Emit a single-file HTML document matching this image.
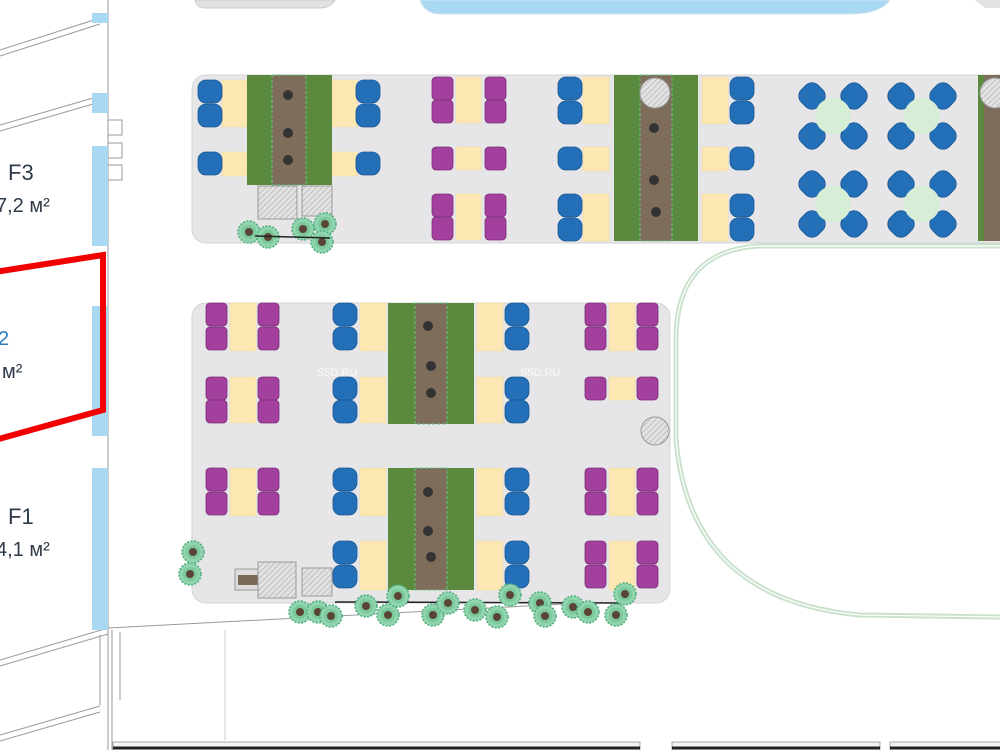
<!DOCTYPE html>
<html><head><meta charset="utf-8"><style>
html,body{margin:0;padding:0;background:#fff;width:1000px;height:750px;overflow:hidden}
svg{display:block}
text{font-family:"Liberation Sans","DejaVu Sans",sans-serif}
</style></head><body>
<svg width="1000" height="750" viewBox="0 0 1000 750" xmlns="http://www.w3.org/2000/svg">
<defs>
<pattern id="hatch" width="4" height="4" patternUnits="userSpaceOnUse" patternTransform="rotate(45)">
<rect width="4" height="4" fill="#e2e2e2"/><line x1="0" y1="0" x2="0" y2="4" stroke="#aaa" stroke-width="1.2"/></pattern>
<g id="bc"><rect x="0" y="0" width="24" height="23" rx="8" fill="#2370b9" stroke="#1a5590" stroke-width="0.8"/></g>
<g id="pc"><rect x="0" y="0" width="21" height="23" rx="4" fill="#a3409e" stroke="#7a2f78" stroke-width="0.8"/></g>
<g id="tree"><circle r="11" fill="#8fd4ad" stroke="#4fae7d" stroke-width="1.5" stroke-dasharray="2 1.5"/><circle r="7" fill="#6cc08f" opacity="0.6"/><circle r="4" fill="#5a4535"/></g>
<g id="xch"><rect x="-12" y="-12" width="24" height="24" rx="9" fill="#2370b9" stroke="#1a5590" stroke-width="0.8" transform="rotate(45)"/></g>
<g id="clu">
<use href="#xch" x="-21" y="-20"/><use href="#xch" x="21" y="-20"/><use href="#xch" x="-21" y="20"/><use href="#xch" x="21" y="20"/>
<circle cx="0" cy="0" r="18" fill="#d6edd6"/>
</g>
</defs>

<!-- top strip -->
<path d="M195,0 L335,0 Q330,8 320,8 L205,8 Q197,8 195,0Z" fill="#e2e2e4" stroke="#ccc"/>
<path d="M420,0 L890,0 Q880,14 850,14 L440,14 Q425,14 420,0Z" fill="#a8d8f2" stroke="#cfe3ee"/>
<path d="M975,0 L1000,0 L1000,8 L985,8Z" fill="#e2e2e4"/>

<!-- left walls -->
<g stroke="#9a9a9a" stroke-width="1" fill="none">
<line x1="0" y1="50" x2="100" y2="18"/><line x1="0" y1="56" x2="100" y2="24"/>
<line x1="0" y1="125" x2="100" y2="96"/><line x1="0" y1="131" x2="100" y2="102"/>
<line x1="0" y1="660" x2="108" y2="628"/><line x1="0" y1="666" x2="108" y2="634"/>
<line x1="0" y1="735" x2="100" y2="706"/><line x1="0" y1="741" x2="100" y2="712"/>
<line x1="108" y1="0" x2="108" y2="750"/><line x1="112" y1="630" x2="112" y2="750"/>
<line x1="100" y1="635" x2="100" y2="705"/><line x1="120" y1="632" x2="120" y2="700"/>
<line x1="108" y1="628" x2="640" y2="600"/>
<line x1="225" y1="630" x2="225" y2="740" stroke="#ccc"/>
<rect x="108" y="120" width="14" height="15"/><rect x="108" y="143" width="14" height="15"/><rect x="108" y="165" width="14" height="15"/>
</g>
<g fill="#a9d8f3">
<rect x="92" y="13" width="16" height="10"/><rect x="92" y="93" width="16" height="20"/>
<rect x="92" y="146" width="16" height="100"/><rect x="92" y="306" width="16" height="130"/>
<rect x="92" y="468" width="16" height="162"/>
</g>
<text x="8" y="180" font-size="22" fill="#2f3b4a">F3</text>
<text x="-4" y="212" font-size="20" fill="#2f3b4a">7,2 м²</text>
<text x="-2" y="345" font-size="20" fill="#2a7dc0">2</text>
<text x="2" y="378" font-size="20" fill="#2f3b4a">м²</text>
<text x="8" y="524" font-size="22" fill="#2f3b4a">F1</text>
<text x="-4" y="556" font-size="20" fill="#2f3b4a">4,1 м²</text>
<polygon points="-5,272 103,255 103,410 -5,440" fill="none" stroke="#f20000" stroke-width="6"/>

<!-- right curve -->
<path d="M1000,246 L760,246 Q676,250 676,340 L676,440 Q690,600 860,615 L1000,617" fill="none" stroke="#c8e2cc" stroke-width="5"/>
<path d="M1000,246 L760,246 Q676,250 676,340 L676,440 Q690,600 860,615 L1000,617" fill="none" stroke="#fff" stroke-width="1.2"/>

<!-- top block -->
<rect x="192" y="75" width="830" height="168" rx="14" fill="#e6e6e8" stroke="#d4d4d6"/>
<g fill="#fde7b3" stroke="#f0d9a0" stroke-width="0.5">
<rect x="222" y="80" width="25" height="47"/><rect x="222" y="152" width="25" height="24"/>
<rect x="332" y="80" width="25" height="47"/><rect x="332" y="152" width="25" height="24"/>
</g>
<use href="#bc" x="198" y="80"/><use href="#bc" x="198" y="104"/><use href="#bc" x="198" y="152"/>
<use href="#bc" x="356" y="80"/><use href="#bc" x="356" y="104"/><use href="#bc" x="356" y="152"/>
<rect x="247" y="75" width="85" height="110" fill="#5b8a3e"/>
<rect x="272" y="75" width="34" height="110" fill="#7d6d5a" stroke="#5fc47f" stroke-dasharray="3 2"/>
<circle cx="288" cy="95" r="5" fill="#333"/><circle cx="288" cy="133" r="5" fill="#333"/><circle cx="288" cy="160" r="5" fill="#333"/>
<rect x="258" y="186" width="39" height="33" fill="url(#hatch)" stroke="#999"/>
<rect x="302" y="186" width="30" height="30" fill="url(#hatch)" stroke="#999"/>
<use href="#tree" x="249" y="232"/><use href="#tree" x="268" y="237"/><use href="#tree" x="303" y="229"/><use href="#tree" x="325" y="224"/><use href="#tree" x="322" y="242"/>
<line x1="255" y1="236" x2="330" y2="238" stroke="#222" stroke-width="1.5"/>

<g fill="#fde7b3" stroke="#f0d9a0" stroke-width="0.5">
<rect x="456" y="77" width="25" height="46"/><rect x="456" y="147" width="25" height="23"/><rect x="456" y="194" width="25" height="46"/>
</g>
<use href="#pc" x="432" y="77"/><use href="#pc" x="432" y="100"/><use href="#pc" x="432" y="147"/><use href="#pc" x="432" y="194"/><use href="#pc" x="432" y="217"/>
<use href="#pc" x="485" y="77"/><use href="#pc" x="485" y="100"/><use href="#pc" x="485" y="147"/><use href="#pc" x="485" y="194"/><use href="#pc" x="485" y="217"/>

<g fill="#fde7b3" stroke="#f0d9a0" stroke-width="0.5">
<rect x="583" y="77" width="26" height="47"/><rect x="583" y="147" width="26" height="24"/><rect x="583" y="194" width="26" height="47"/>
<rect x="702" y="77" width="26" height="47"/><rect x="702" y="147" width="26" height="24"/><rect x="702" y="194" width="26" height="47"/>
</g>
<use href="#bc" x="558" y="77"/><use href="#bc" x="558" y="101"/><use href="#bc" x="558" y="147"/><use href="#bc" x="558" y="194"/><use href="#bc" x="558" y="218"/>
<use href="#bc" x="730" y="77"/><use href="#bc" x="730" y="101"/><use href="#bc" x="730" y="147"/><use href="#bc" x="730" y="194"/><use href="#bc" x="730" y="218"/>
<rect x="614" y="75" width="84" height="166" fill="#5b8a3e"/>
<rect x="640" y="75" width="32" height="166" fill="#7d6d5a" stroke="#5fc47f" stroke-dasharray="3 2"/>
<circle cx="655" cy="93" r="15" fill="url(#hatch)" stroke="#999"/>
<circle cx="654" cy="128" r="5" fill="#333"/><circle cx="654" cy="180" r="5" fill="#333"/><circle cx="656" cy="212" r="5" fill="#333"/>

<use href="#clu" x="833" y="116"/><use href="#clu" x="922" y="116"/>
<use href="#clu" x="833" y="204"/><use href="#clu" x="922" y="204"/>
<rect x="978" y="75" width="30" height="166" fill="#5b8a3e"/>
<rect x="984" y="75" width="20" height="166" fill="#7d6d5a"/>
<circle cx="995" cy="93" r="15" fill="url(#hatch)" stroke="#999"/>

<!-- bottom block -->
<rect x="192" y="303" width="478" height="300" rx="14" fill="#e6e6e8" stroke="#d4d4d6"/>
<g fill="#fde7b3" stroke="#f0d9a0" stroke-width="0.5">
<rect x="230" y="303" width="26" height="48"/><rect x="230" y="377" width="26" height="46"/><rect x="230" y="468" width="26" height="48"/>
<rect x="360" y="303" width="26" height="48"/><rect x="360" y="377" width="26" height="46"/><rect x="360" y="468" width="26" height="48"/><rect x="360" y="541" width="26" height="49"/>
<rect x="477" y="303" width="26" height="48"/><rect x="477" y="377" width="26" height="46"/><rect x="477" y="468" width="26" height="48"/><rect x="477" y="541" width="26" height="49"/>
<rect x="609" y="303" width="26" height="48"/><rect x="609" y="377" width="26" height="23"/><rect x="609" y="468" width="26" height="48"/><rect x="609" y="541" width="26" height="49"/>
</g>
<use href="#pc" x="206" y="303"/><use href="#pc" x="206" y="327"/><use href="#pc" x="206" y="377"/><use href="#pc" x="206" y="400"/><use href="#pc" x="206" y="468"/><use href="#pc" x="206" y="492"/>
<use href="#pc" x="258" y="303"/><use href="#pc" x="258" y="327"/><use href="#pc" x="258" y="377"/><use href="#pc" x="258" y="400"/><use href="#pc" x="258" y="468"/><use href="#pc" x="258" y="492"/>
<use href="#bc" x="333" y="303"/><use href="#bc" x="333" y="327"/><use href="#bc" x="333" y="377"/><use href="#bc" x="333" y="400"/><use href="#bc" x="333" y="468"/><use href="#bc" x="333" y="492"/><use href="#bc" x="333" y="541"/><use href="#bc" x="333" y="565"/>
<use href="#bc" x="505" y="303"/><use href="#bc" x="505" y="327"/><use href="#bc" x="505" y="377"/><use href="#bc" x="505" y="400"/><use href="#bc" x="505" y="468"/><use href="#bc" x="505" y="492"/><use href="#bc" x="505" y="541"/><use href="#bc" x="505" y="565"/>
<rect x="388" y="303" width="86" height="121" fill="#5b8a3e"/>
<rect x="415" y="303" width="32" height="121" fill="#7d6d5a" stroke="#5fc47f" stroke-dasharray="3 2"/>
<rect x="388" y="468" width="86" height="122" fill="#5b8a3e"/>
<rect x="415" y="468" width="32" height="122" fill="#7d6d5a" stroke="#5fc47f" stroke-dasharray="3 2"/>
<circle cx="428" cy="326" r="5" fill="#333"/><circle cx="431" cy="366" r="5" fill="#333"/><circle cx="431" cy="393" r="5" fill="#333"/>
<circle cx="428" cy="492" r="5" fill="#333"/><circle cx="428" cy="531" r="5" fill="#333"/><circle cx="431" cy="557" r="5" fill="#333"/>
<use href="#pc" x="585" y="303"/><use href="#pc" x="585" y="327"/><use href="#pc" x="585" y="377"/><use href="#pc" x="585" y="468"/><use href="#pc" x="585" y="492"/><use href="#pc" x="585" y="541"/><use href="#pc" x="585" y="565"/>
<use href="#pc" x="637" y="303"/><use href="#pc" x="637" y="327"/><use href="#pc" x="637" y="377"/><use href="#pc" x="637" y="468"/><use href="#pc" x="637" y="492"/><use href="#pc" x="637" y="541"/><use href="#pc" x="637" y="565"/>
<circle cx="655" cy="431" r="14" fill="url(#hatch)" stroke="#999"/>
<text x="317" y="376" font-size="11" fill="#fff" opacity="0.8">S5D.RU</text>
<text x="520" y="376" font-size="11" fill="#fff" opacity="0.8">S5D.RU</text>
<use href="#tree" x="193" y="552"/><use href="#tree" x="190" y="574"/>
<rect x="235" y="569" width="23" height="21" fill="#ddd" stroke="#999"/><rect x="238" y="575" width="20" height="10" fill="#7a6a55"/>
<rect x="258" y="562" width="38" height="36" fill="url(#hatch)" stroke="#999"/>
<rect x="302" y="568" width="30" height="28" fill="url(#hatch)" stroke="#999"/>
<line x1="335" y1="602" x2="620" y2="603" stroke="#222" stroke-width="1.5"/>
<use href="#tree" x="300" y="612"/><use href="#tree" x="318" y="612"/><use href="#tree" x="331" y="616"/>
<use href="#tree" x="366" y="606"/><use href="#tree" x="388" y="615"/><use href="#tree" x="398" y="596"/>
<use href="#tree" x="433" y="615"/><use href="#tree" x="448" y="603"/><use href="#tree" x="475" y="610"/>
<use href="#tree" x="497" y="617"/><use href="#tree" x="510" y="595"/><use href="#tree" x="540" y="603"/>
<use href="#tree" x="545" y="616"/><use href="#tree" x="573" y="607"/><use href="#tree" x="588" y="612"/>
<use href="#tree" x="616" y="615"/><use href="#tree" x="625" y="594"/>

<g fill="#f4f4f4" stroke="#aaa">
<rect x="113" y="742" width="527" height="10"/><rect x="672" y="742" width="208" height="10"/><rect x="890" y="742" width="115" height="10"/>
</g>
<line x1="113" y1="748" x2="640" y2="748" stroke="#222" stroke-width="3"/>
<line x1="672" y1="748" x2="880" y2="748" stroke="#222" stroke-width="3"/>
<line x1="890" y1="748" x2="1000" y2="748" stroke="#222" stroke-width="3"/>
</svg>
</body></html>
